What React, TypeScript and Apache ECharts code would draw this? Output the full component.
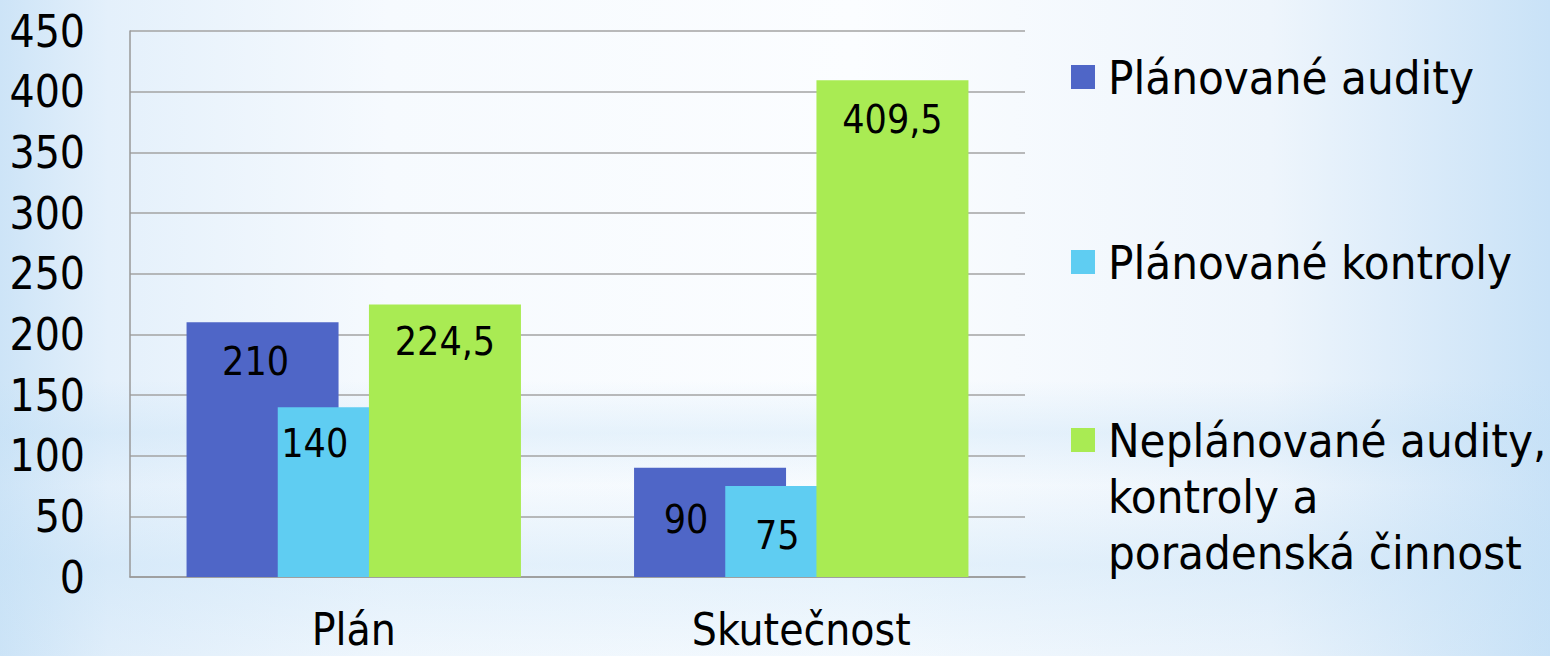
import React, { useEffect, useRef } from 'react';
import * as echarts from 'echarts';

// ---- data ----
const categories = ['Plán', 'Skutečnost'];
const seriesNames = [
  'Plánované audity',
  'Plánované kontroly',
  'Neplánované audity, kontroly a poradenská činnost',
];
const plannedAudits = [210, 90];
const plannedControls = [140, 75];
const unplannedActivities = [224.5, 409.5];
const legendThirdLines = ['Neplánované audity,', 'kontroly a', 'poradenská činnost'];
const yMin = 0;
const yMax = 450;
const yStep = 50;

// ---- styling (kept apart from the data) ----
const colors = ['#4f66c7', '#5fcdf2', '#a9eb53'];
const labelDx = [[-7, -24], [-39, -24], [0, 0]];
const labelDy = [[39, 52], [36, 49], [36.5, 39]];
const FONT = '"DejaVu Sans Condensed", "DejaVu Sans", sans-serif';
const legendTops = [49, 234, 300];

const fmt = (v: number) => String(v).replace('.', ',');

export default function App() {
  const ref = useRef<HTMLDivElement>(null);
  useEffect(() => {
    document.body.style.margin = '0';
    if (!ref.current) return;
    const chart = echarts.init(ref.current, undefined, { renderer: 'svg' });
    const W = 1550;
    const H = 656;
    const allData = [plannedAudits, plannedControls, unplannedActivities];

    const series = allData.map((vals, si) => ({
      name: seriesNames[si],
      type: 'bar',
      barWidth: 152,
      barGap: '-40%',
      itemStyle: { color: colors[si] },
      data: vals.map((v, ci) => ({
        value: v,
        label: {
          show: true,
          position: ['50%', labelDy[si][ci]],
          align: 'center',
          verticalAlign: 'middle',
          offset: [labelDx[si][ci], 0],
          formatter: () => fmt(v),
          fontSize: 39,
          fontFamily: FONT,
          color: '#000',
        },
      })),
    }));

    // the multi-line legend entry: two empty lines on top keep its first line level with the marker
    const legends = seriesNames.map((name, i) => ({
      data: [{ name, icon: 'rect' }],
      orient: 'vertical',
      left: 1071,
      top: legendTops[i],
      padding: 0,
      itemWidth: 24,
      itemHeight: 24,
      selectedMode: false,
      formatter: (n: string) =>
        n === seriesNames[2] ? ['', ''].concat(legendThirdLines).join('\n') : n,
      textStyle: {
        fontSize: 47,
        fontFamily: FONT,
        color: '#000',
        lineHeight: 56,
        padding: [0, 0, 0, 8],
      },
    }));

    chart.setOption({
      animation: false,
      graphic: [
        {
          type: 'rect',
          z: -100,
          silent: true,
          shape: { x: 0, y: 0, width: W, height: H },
          style: {
            fill: new echarts.graphic.LinearGradient(0, 0, 1, 0, [
              { offset: 0, color: '#cde4f7' },
              { offset: 0.07, color: '#e4f0fb' },
              { offset: 0.25, color: '#f6fafe' },
              { offset: 0.55, color: '#fbfdff' },
              { offset: 0.82, color: '#eef5fc' },
              { offset: 1, color: '#c9e2f7' },
            ]),
          },
        },
        {
          type: 'rect',
          z: -99,
          silent: true,
          shape: { x: 0, y: 0, width: W, height: H },
          style: {
            fill: new echarts.graphic.LinearGradient(0, 0, 0, 1, [
              { offset: 0, color: 'rgba(195,224,246,0)' },
              { offset: 0.58, color: 'rgba(195,224,246,0)' },
              { offset: 0.66, color: 'rgba(195,224,246,0.35)' },
              { offset: 0.74, color: 'rgba(195,224,246,0.05)' },
              { offset: 0.86, color: 'rgba(195,224,246,0.4)' },
              { offset: 1, color: 'rgba(195,224,246,0.15)' },
            ]),
          },
        },
      ],
      grid: { left: 130, right: 525, top: 31, bottom: 79, containLabel: false },
      legend: legends,
      xAxis: {
        type: 'category',
        data: categories,
        axisTick: { show: false },
        axisLine: { show: true, lineStyle: { color: '#999', width: 1.5 } },
        axisLabel: { fontSize: 44, fontFamily: FONT, color: '#000', margin: 30 },
      },
      yAxis: {
        type: 'value',
        min: yMin,
        max: yMax,
        interval: yStep,
        axisLine: { show: true, lineStyle: { color: '#999', width: 1.5 } },
        axisTick: { show: false },
        splitLine: { show: true, lineStyle: { color: '#a3a3a3', width: 1.5 } },
        axisLabel: { fontSize: 44, fontFamily: FONT, color: '#000', margin: 45 },
      },
      series,
    });
    return () => chart.dispose();
  }, []);
  return <div ref={ref} style={{ width: 1550, height: 656 }} />;
}
